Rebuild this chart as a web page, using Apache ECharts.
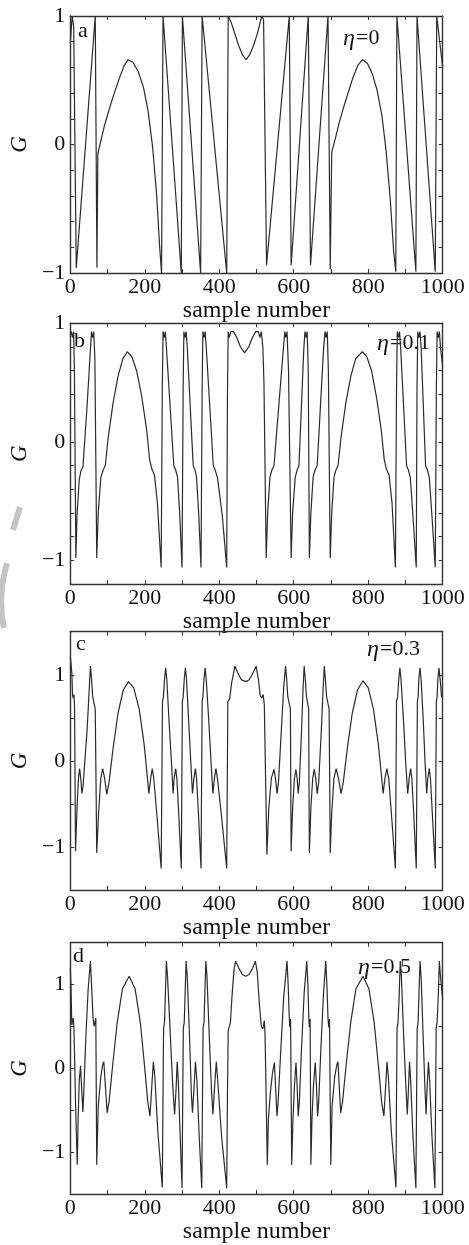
<!DOCTYPE html>
<html><head><meta charset="utf-8">
<script src="https://cdn.jsdelivr.net/npm/echarts@6/dist/echarts.min.js"></script>
<style>html,body{margin:0;padding:0;background:#fff}#c{width:469px;height:1245px}</style>
</head><body><div id="c"></div>
<script>
const panelLetters = ['a','b','c','d'];
const etaValues = ['0','0.1','0.3','0.5'];
const xAxisName = 'sample number';
const yAxisName = 'G';
const yRanges = [[-1,1,0.2],[-1.2,1,0.2],[-1.5,1.5,0.5],[-1.5,1.5,0.5]];

const seriesA = [
[0,0.79],[5,1],[9,0.92],[16,-0.96],
[67,1],[71.5,-0.96],[74,-0.07],[83,0.04],[92,0.15],[105,0.28],[118,0.4],[131,0.51],[144,0.61],[155,0.66],[168,0.64],[182,0.57],[196,0.45],[209,0.26],[221,-0.02],[232,-0.4],[240,-0.8],[245,-1],
[249,1],[298,-1],[301,1],[350,-1],[354,1],[420,-1],[424,1],
[432,0.95],[442,0.86],[452,0.77],[462,0.7],[472,0.66],[482,0.7],[492,0.77],[502,0.86],[509,0.94],[514,1],
[519,0.97],[527,-0.94],[588,1],[593,-0.94],[639,1],[645,-0.94],[692,1],[698,-0.97],
[702,-0.06],[712,0.05],[722,0.17],[735,0.3],[748,0.42],[760,0.53],[773,0.62],[785,0.66],[798,0.63],[811,0.55],[824,0.42],[837,0.22],[848,-0.05],[859,-0.42],[868,-0.82],[874,-0.99],
[877,1],[928,-0.99],[931,1],[980,-0.99],[984,1],[1000,0.6]
];

const seriesB = [
[0,0.9],[3,0.93],[6,0.88],[9,0.93],[11,0.6],[15,-0.98],
[18,-0.62],[24,-0.32],[29,-0.24],[34,-0.21],[45,0.3],[54,0.78],[57,0.93],[60,0.88],[63,0.93],[66,0.7],[71,-0.98],
[75,-0.6],[82,-0.3],[88,-0.24],[94,-0.2],[102,0.04],[115,0.33],[128,0.55],[141,0.7],[153,0.76],[165,0.72],[178,0.6],[192,0.38],[205,0.1],[213,-0.15],[219,-0.23],[226,-0.28],[234,-0.52],[244,-1.06],
[247,0.45],[249,0.93],[252,0.88],[255,0.93],[258,0.8],[278,-0.2],[283,-0.24],[288,-0.3],[294,-0.62],[300,-1.06],
[303,0.45],[305,0.93],[308,0.88],[311,0.93],[314,0.8],[330,-0.2],[335,-0.24],[339,-0.3],[345,-0.62],[351,-1.06],
[354,0.45],[356,0.93],[359,0.88],[362,0.93],[365,0.8],[384,-0.2],[389,-0.24],[395,-0.3],[408,-0.62],[420,-1.06],
[422,0.4],[424,0.93],[427,0.88],[431,0.93],[438,0.93],[447,0.88],[457,0.8],[468,0.75],[479,0.8],[489,0.88],[498,0.93],[505,0.93],[509,0.88],[513,0.93],[517,0.8],[520,0.5],[526,-0.98],
[530,-0.6],[536,-0.3],[541,-0.24],[547,-0.2],[572,0.78],[576,0.93],[579,0.88],[582,0.93],[586,0.6],[593,-0.98],
[597,-0.6],[604,-0.3],[609,-0.24],[614,-0.2],[627,0.78],[630,0.93],[633,0.88],[636,0.93],[639,0.6],[642,-0.98],
[646,-0.6],[652,-0.3],[657,-0.24],[663,-0.2],[680,0.78],[684,0.93],[687,0.88],[690,0.93],[693,0.6],[698,-0.98],
[702,-0.6],[708,-0.3],[713,-0.24],[719,-0.2],[727,0.04],[740,0.33],[753,0.55],[766,0.7],[784,0.76],[796,0.72],[809,0.6],[822,0.38],[835,0.1],[843,-0.15],[849,-0.23],[856,-0.28],[864,-0.52],[873,-1.06],
[876,0.45],[878,0.93],[881,0.88],[884,0.93],[887,0.8],[903,-0.2],[908,-0.24],[913,-0.3],[920,-0.62],[929,-1.06],
[931,0.45],[933,0.93],[936,0.88],[939,0.93],[942,0.8],[954,-0.2],[959,-0.24],[964,-0.3],[971,-0.62],[980,-1.06],
[983,0.45],[985,0.93],[988,0.88],[991,0.93],[994,0.8],[1000,0.63]
];

const seriesC = [
[0,1.21],[2.5,1.1],[4.4,1.0],[6,0.76],[8,0.73],[10,0.77],[11.5,0.6],[14,-1.05],
[18,-0.55],[22,-0.2],[25,-0.09],[28,-0.2],[31,-0.38],[34,-0.3],[45,0.35],[51,0.85],[54,1.1],[57,0.95],[60,0.75],[63,0.73],[65,0.77],[67,0.6],[71,-1.07],
[76,-0.6],[82,-0.2],[87,-0.09],[92,-0.2],[98,-0.39],[104,-0.25],[115,0.15],[128,0.55],[142,0.82],[156,0.92],[170,0.85],[185,0.6],[198,0.2],[206,-0.15],[211,-0.38],[216,-0.2],[220,-0.09],[224,-0.2],[232,-0.6],[244,-1.25],
[247.5,0.69],[250,0.74],[253,0.95],[256,1.08],[259,0.95],[266,0.4],[272,-0.05],[276,-0.38],[279,-0.2],[283,-0.09],[286,-0.2],[291,-0.6],[298,-1.25],
[301,0.69],[303,0.74],[306,0.95],[309,1.08],[312,0.95],[318,0.45],[324,-0.05],[328,-0.38],[332,-0.2],[336,-0.09],[339,-0.2],[344,-0.6],[351,-1.25],
[354,0.69],[356,0.74],[359,0.95],[362,1.08],[365,0.95],[372,0.45],[379,-0.1],[383,-0.38],[387,-0.2],[391,-0.09],[395,-0.2],[405,-0.6],[420,-1.25],
[423,0.69],[428,0.72],[433,0.9],[442,1.1],[452,1.0],[460,0.94],[471,0.92],[480,0.94],[488,1.0],[499,1.1],[505,0.95],[510,0.76],[514,0.73],[518,0.77],[521,0.65],[528,-1.09],
[533,-0.55],[540,-0.2],[547,-0.1],[551,-0.2],[555,-0.38],[559,-0.25],[566,0.3],[573,0.85],[578,1.1],[581,0.95],[584,0.75],[587,0.73],[589,0.77],[591,0.6],[593,-1.05],
[597,-0.55],[602,-0.2],[606,-0.1],[609,-0.2],[612,-0.38],[615,-0.25],[621,0.35],[625,0.85],[628,1.1],[631,0.95],[634,0.75],[636,0.73],[638,0.77],[640,0.6],[642,-1.07],
[646,-0.55],[651,-0.2],[655,-0.1],[659,-0.2],[663,-0.38],[667,-0.25],[674,0.35],[679,0.85],[682,1.1],[685,0.95],[688,0.75],[691,0.73],[693,0.77],[695,0.6],[698,-1.07],
[702,-0.6],[708,-0.2],[714,-0.09],[720,-0.2],[727,-0.38],[733,-0.25],[744,0.15],[757,0.55],[771,0.82],[786,0.93],[800,0.85],[814,0.6],[827,0.2],[835,-0.15],[840,-0.38],[845,-0.2],[850,-0.09],[855,-0.2],[862,-0.6],[873,-1.25],
[876,0.69],[879,0.74],[882,0.95],[885,1.08],[888,0.95],[895,0.45],[901,-0.05],[906,-0.38],[910,-0.2],[914,-0.09],[917,-0.2],[922,-0.6],[929,-1.25],
[932,0.69],[934,0.74],[936,0.95],[939,1.08],[942,0.95],[948,0.45],[953,-0.05],[957,-0.38],[960,-0.2],[964,-0.09],[967,-0.2],[972,-0.6],[980,-1.25],
[983,0.69],[985,0.74],[987,0.95],[990,1.08],[993,0.95],[997,0.74],[1000,0.75]
];

const seriesD = [
[0,1.2],[2,0.95],[4,0.52],[6,0.5],[8,0.6],[10,0.45],[14,-0.4],[18.6,-1.15],
[21,-0.6],[24,-0.15],[27.5,0.03],[30,-0.2],[33.7,-0.52],[36,-0.3],[42,0.4],[48,0.95],[54,1.28],[57,1.0],[61,0.6],[64,0.5],[66.5,0.49],[68.5,0.6],[71,-1.15],
[75,-0.45],[82,-0.1],[87,0.05],[90,0.08],[94,-0.2],[99,-0.53],[104,-0.4],[114,0.05],[126,0.55],[140,0.95],[158,1.1],[174,0.95],[188,0.55],[200,0.0],[208,-0.4],[214,-0.57],[219,-0.2],[223,0.08],[227,-0.1],[235,-0.75],[247,-1.42],
[249,-0.3],[250.5,0.48],[253,0.55],[255,0.85],[258,1.28],[261,1.1],[268,0.45],[275,-0.2],[280,-0.55],[284,-0.25],[287,0.08],[290,-0.15],[295,-0.8],[300,-1.43],
[302,-0.3],[303.5,0.48],[306,0.55],[308,0.85],[311,1.28],[314,1.1],[320,0.4],[325,-0.3],[328,-0.53],[332,-0.25],[336,0.08],[340,-0.15],[346,-0.8],[353,-1.43],
[355,-0.3],[356.5,0.48],[359,0.55],[361,0.85],[364,1.28],[367,1.1],[373,0.4],[379,-0.25],[383,-0.55],[387,-0.25],[392,0.08],[396,-0.15],[406,-0.8],[420,-1.43],
[422,-0.3],[424,0.45],[427,0.5],[430,0.55],[434,0.85],[440,1.2],[444,1.28],[452,1.2],[462,1.12],[471,1.1],[480,1.12],[490,1.2],[497,1.28],[502,1.15],[508,0.75],[513,0.5],[517,0.47],[521,0.57],[523,0.4],[529,-1.15],
[532,-0.6],[537,-0.3],[543,-0.05],[548,0.07],[551,-0.2],[555,-0.57],[558,-0.4],[565,0.2],[573,0.85],[582,1.28],[585,1.0],[588,0.6],[589.5,0.49],[591.5,0.59],[594.5,-1.15],
[598,-0.6],[602,-0.2],[606,0.07],[609,-0.2],[612,-0.57],[615,-0.4],[621,0.25],[628,0.9],[635,1.28],[638,1.0],[640.5,0.6],[642,0.49],[644,0.59],[646,-1.15],
[649,-0.6],[653,-0.2],[657.7,0.07],[661,-0.2],[664,-0.57],[667,-0.4],[673,0.25],[680,0.9],[686,1.28],[689,1.0],[692,0.6],[694,0.49],[696,0.59],[699.5,-1.15],
[703,-0.45],[710,-0.1],[716,0.05],[719,0.08],[722,-0.2],[726,-0.53],[731,-0.4],[741,0.05],[753,0.55],[767,0.95],[786,1.1],[802,0.95],[816,0.55],[828,0.0],[836,-0.4],[842,-0.57],[847,-0.2],[850.5,0.08],[854,-0.1],[862,-0.75],[874.5,-1.42],
[876,-0.3],[877.5,0.48],[880,0.55],[883,0.85],[886,1.28],[889,1.1],[895,0.4],[901,-0.2],[905,-0.55],[908,-0.25],[911,0.08],[914,-0.15],[920,-0.8],[928,-1.43],
[930,-0.3],[931.5,0.48],[934,0.55],[936,0.85],[939,1.28],[942,1.1],[947,0.45],[952,-0.2],[955.4,-0.55],[958,-0.25],[961.7,0.08],[965,-0.15],[971,-0.8],[979,-1.43],
[981,-0.3],[982.5,0.48],[985,0.55],[988,0.85],[991,1.28],[994,1.1],[1000,0.82]
];

const allSeries = [seriesA, seriesB, seriesC, seriesD];

const FONT = '"Liberation Serif","Times New Roman",serif';
const gridBoxes = [
  {left:67.7, top:16, width:375, height:257},
  {left:67.7, top:323.3, width:375, height:260.7},
  {left:67.7, top:631.7, width:375, height:258.3},
  {left:67.7, top:942.7, width:375, height:259}
];
const labelPos = [
  {lx:78, ly:33, ex:343, ey:40},
  {lx:74, ly:343, ex:377, ey:345},
  {lx:76, ly:646, ex:367, ey:651},
  {lx:73, ly:958, ex:358, ey:969}
];

const axisLineStyle = {color:'#333', width:1.4};
const grid = [], xAxis = [], yAxis = [], series = [], graphic = [];
gridBoxes.forEach((g, i) => {
  grid.push(Object.assign({containLabel:false}, g));
  const tick = {show:true, inside:true, length:4, lineStyle:{color:'#333', width:1}};
  xAxis.push({
    type:'value', gridIndex:i, min:0, max:1000, interval:100, position:'bottom',
    axisLine:{show:true, onZero:false, lineStyle:axisLineStyle},
    axisTick:tick, splitLine:{show:false},
    axisLabel:{show:true, margin:3, color:'#111', fontFamily:FONT, fontSize:22, showMinLabel:true, showMaxLabel:true,
      formatter:v => (Math.round(v) % 200 === 0 ? String(Math.round(v)) : '')},
    name:xAxisName, nameLocation:'middle', nameGap:23,
    nameTextStyle:{color:'#111', fontFamily:FONT, fontSize:24}
  });
  xAxis.push({
    type:'value', gridIndex:i, min:0, max:1000, interval:100, position:'top',
    axisLine:{show:true, onZero:false, lineStyle:axisLineStyle},
    axisTick:tick, axisLabel:{show:false}, splitLine:{show:false}
  });
  const r = yRanges[i];
  yAxis.push({
    type:'value', gridIndex:i, min:r[0], max:r[1], interval:r[2], position:'left',
    axisLine:{show:true, onZero:false, lineStyle:axisLineStyle},
    axisTick:tick, splitLine:{show:false},
    axisLabel:{show:true, margin:5, color:'#111', fontFamily:FONT, fontSize:22, showMinLabel:true, showMaxLabel:true,
      formatter:v => {const k = Math.round(v); if (Math.abs(v - k) > 1e-6) return ''; return k < 0 ? '\u2212' + Math.abs(k) : String(k);}},
    name:yAxisName, nameLocation:'middle', nameGap:24, nameRotate:90,
    nameTextStyle:{color:'#111', fontFamily:FONT, fontSize:23, fontStyle:'italic'}
  });
  yAxis.push({
    type:'value', gridIndex:i, min:r[0], max:r[1], interval:r[2], position:'right',
    axisLine:{show:true, onZero:false, lineStyle:axisLineStyle},
    axisTick:tick, axisLabel:{show:false}, splitLine:{show:false}
  });
  series.push({
    type:'line', xAxisIndex:2*i, yAxisIndex:2*i, data:allSeries[i], showSymbol:false, symbol:'none',
    lineStyle:{color:'#2b2b2b', width:1.2}, clip:true, animation:false
  });
  const p = labelPos[i];
  graphic.push({type:'text', left:p.lx, top:p.ly - 13, style:{text:panelLetters[i], font:'22px ' + FONT, fill:'#111'}});
  graphic.push({type:'text', left:p.ex, top:p.ey - 13, style:{text:'\u03b7', font:'italic 24px ' + FONT, fill:'#111'}});
  graphic.push({type:'text', left:p.ex + 13, top:p.ey - 13, style:{text:'=' + etaValues[i], font:'22px ' + FONT, fill:'#111'}});
});

// faint watermark arc at the left edge between panels b and c
graphic.push({type:'polyline', silent:true, z:-1, shape:{points:[[20,507],[13,530]]}, style:{stroke:'#c4c4c4', lineWidth:6, fill:null}});
graphic.push({type:'bezierCurve', silent:true, z:-1, shape:{x1:7, y1:563, x2:4, y2:628, cpx1:-3, cpy1:598}, style:{stroke:'#c4c4c4', lineWidth:6, fill:null}});

const chart = echarts.init(document.getElementById('c'), null, {renderer:'canvas'});
chart.setOption({animation:false, backgroundColor:'#fff', grid, xAxis, yAxis, series, graphic});
</script>
</body></html>
